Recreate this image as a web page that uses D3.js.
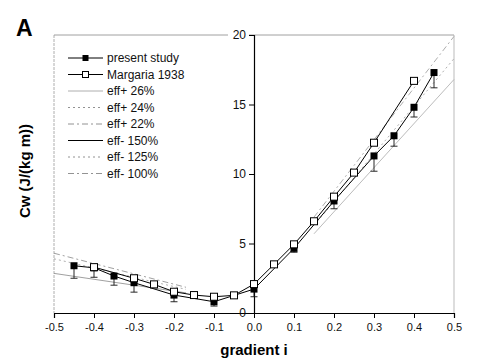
<!DOCTYPE html>
<html><head><meta charset="utf-8">
<script src="https://cdn.jsdelivr.net/npm/d3@7"></script>
<style>body{margin:0;background:#fff}svg{display:block;font-family:"Liberation Sans",Arial,sans-serif}</style>
</head><body><svg id="c" width="477" height="360"></svg>
<script>
// Data
const presentX   = [-0.45,-0.4,-0.35,-0.3,-0.2,-0.1,0,0.1,0.2,0.3,0.35,0.4,0.45];
const presentY   = [3.4,3.25,2.66,2.18,1.29,0.81,1.72,4.65,8.06,11.3,12.75,14.8,17.3];
const presentLow = [2.5,2.57,2.0,1.5,0.81,0.5,1.17,4.37,7.5,10.2,12.0,14.1,16.2];
const margariaX  = [-0.4,-0.3,-0.25,-0.2,-0.15,-0.1,-0.05,0,0.05,0.1,0.15,0.2,0.25,0.3,0.4];
const margariaY  = [3.3,2.5,2.06,1.53,1.29,1.17,1.27,2.08,3.5,4.94,6.6,8.37,10.1,12.25,16.7];
// model lines: [x0,y0,x1,y1]
const effPos26 = [0.15,5.7,0.5,16.8];
const effPos24 = [0.15,6.3,0.5,18.3];
const effPos22 = [0.15,6.9,0.5,19.9];
const effNeg150 = [-0.5,2.85,-0.17,1.45];
const effNeg125 = [-0.5,3.9,-0.17,1.7];
const effNeg100 = [-0.5,4.3,-0.17,1.85];
const xTicks = [-0.5,-0.4,-0.3,-0.2,-0.1,0,0.1,0.2,0.3,0.4,0.5];
const yTicks = [0,5,10,15,20];
const legendLabels = ["present study","Margaria 1938","eff+ 26%","eff+ 24%","eff+ 22%","eff- 150%","eff- 125%","eff- 100%"];

const svg = d3.select("#c");
const x = d3.scaleLinear().domain([-0.5,0.5]).range([54,454]);
const y = d3.scaleLinear().domain([0,20]).range([313,35]);

// frame
svg.append("line").attr("x1",54).attr("x2",454).attr("y1",35).attr("y2",35).attr("stroke","#888").attr("stroke-width",0.8);
svg.append("line").attr("x1",54).attr("x2",54).attr("y1",35).attr("y2",313).attr("stroke","#999").attr("stroke-width",0.8).attr("stroke-dasharray","3,1");
svg.append("line").attr("x1",454).attr("x2",454).attr("y1",35).attr("y2",313).attr("stroke","#aaa").attr("stroke-width",0.8);

// x axis
const xa = svg.append("g").attr("transform","translate(0,313)")
  .call(d3.axisBottom(x).tickValues(xTicks).tickSize(5).tickFormat(d=>d3.format(".1f")(d).replace("−","-")));
xa.select(".domain").attr("stroke","#000").attr("stroke-width",1.2);
xa.selectAll("text").attr("font-size",11).attr("font-family","Liberation Sans, Arial").attr("dy","0.9em").attr("fill","#111");

// y axis at x=0
const ya = svg.append("g").attr("transform",`translate(${x(0)},0)`)
  .call(d3.axisLeft(y).tickValues(yTicks).tickSize(5).tickFormat(d3.format("d")));
ya.select(".domain").attr("stroke","#000").attr("stroke-width",1.2);
ya.selectAll("text").attr("font-size",12).attr("font-family","Liberation Sans, Arial").attr("fill","#111");
ya.selectAll(".tick text").filter(d=>d===20).attr("fill","#111");
// white background behind 20 label
ya.selectAll(".tick").filter(d=>d===20).insert("rect",":first-child").attr("x",-26).attr("y",-7).attr("width",21).attr("height",14).attr("fill","#fff");

// model lines
function modelLine(a, style){
  svg.append("line").attr("x1",x(a[0])).attr("y1",y(a[1])).attr("x2",x(a[2])).attr("y2",y(a[3]))
    .attr("stroke",style.c).attr("stroke-width",style.w).attr("stroke-dasharray",style.d);
}
const styles = {
  p26:{c:"#aaa",w:0.8,d:null},
  p24:{c:"#999",w:0.8,d:"2,3"},
  p22:{c:"#999",w:0.8,d:"6,3,2,3"},
  n150:{c:"#888",w:0.8,d:null},
  n125:{c:"#999",w:0.8,d:"2,3"},
  n100:{c:"#888",w:0.8,d:"6,3,2,3"}
};
modelLine(effPos26,styles.p26);
modelLine(effPos24,styles.p24);
modelLine(effPos22,styles.p22);
modelLine(effNeg150,styles.n150);
modelLine(effNeg125,styles.n125);
modelLine(effNeg100,styles.n100);

// error bars
const pres = presentX.map((v,i)=>({x:v,y:presentY[i],lo:presentLow[i]}));
const eb = svg.append("g").attr("stroke","#111").attr("stroke-width",0.9);
pres.forEach(d=>{
  eb.append("line").attr("x1",x(d.x)).attr("x2",x(d.x)).attr("y1",y(d.y)).attr("y2",y(d.lo));
  eb.append("line").attr("x1",x(d.x)-3.5).attr("x2",x(d.x)+3.5).attr("y1",y(d.lo)).attr("y2",y(d.lo));
});

const line = d3.line().x(d=>x(d.x)).y(d=>y(d.y));
const marg = margariaX.map((v,i)=>({x:v,y:margariaY[i]}));
svg.append("path").datum(pres).attr("d",line).attr("fill","none").attr("stroke","#000").attr("stroke-width",1);
svg.append("path").datum(marg).attr("d",line).attr("fill","none").attr("stroke","#000").attr("stroke-width",1);

svg.selectAll("rect.pm").data(pres).enter().append("rect").attr("class","pm")
  .attr("x",d=>x(d.x)-3.5).attr("y",d=>y(d.y)-3.5).attr("width",7).attr("height",7).attr("fill","#000");
svg.selectAll("rect.mm").data(marg).enter().append("rect").attr("class","mm")
  .attr("x",d=>x(d.x)-3.5).attr("y",d=>y(d.y)-3.5).attr("width",7).attr("height",7).attr("fill","#fff").attr("stroke","#000").attr("stroke-width",1);

// legend
const lg = svg.append("g");
const legStyles = [
  {c:"#000",w:1,d:null,m:"filled"},
  {c:"#000",w:1,d:null,m:"open"},
  {c:"#999",w:0.8,d:null},
  {c:"#777",w:0.8,d:"2,3"},
  {c:"#777",w:0.8,d:"6,3,2,3"},
  {c:"#000",w:1.2,d:null},
  {c:"#777",w:0.8,d:"2,3"},
  {c:"#777",w:0.8,d:"6,3,2,3"}
];
legendLabels.forEach((t,i)=>{
  const yy = 58 + i*16.5;
  const s = legStyles[i];
  lg.append("line").attr("x1",68).attr("x2",103).attr("y1",yy).attr("y2",yy)
    .attr("stroke",s.c).attr("stroke-width",s.w).attr("stroke-dasharray",s.d);
  if(s.m==="filled") lg.append("rect").attr("x",82.5).attr("y",yy-3).attr("width",6).attr("height",6).attr("fill","#000");
  if(s.m==="open") lg.append("rect").attr("x",82.5).attr("y",yy-3).attr("width",6).attr("height",6).attr("fill","#fff").attr("stroke","#000");
  lg.append("text").attr("x",107).attr("y",yy).attr("dy","0.35em").attr("font-size",12).attr("fill","#111").text(t);
});

// titles
svg.append("text").attr("x",x(0)).attr("y",355).attr("text-anchor","middle").attr("font-size",15).attr("font-weight","bold").text("gradient i");
svg.append("text").attr("transform","translate(30,171) rotate(-90)").attr("text-anchor","middle").attr("font-size",15).attr("font-weight","bold").text("Cw (J/(kg m))");
svg.append("text").attr("x",16).attr("y",36).attr("font-size",23).attr("font-weight","bold").text("A");
</script></body></html>
